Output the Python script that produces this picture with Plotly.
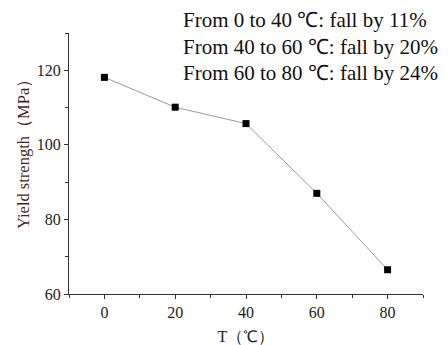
import plotly.graph_objects as go

temps = [0, 20, 40, 60, 80]
yield_strength = [118.1, 110.1, 105.7, 87.0, 66.5]
x_ticks = [0, 20, 40, 60, 80]
y_ticks = [60, 80, 100, 120]
notes = ["From 0 to 40 ℃: fall by 11%",
         "From 40 to 60 ℃: fall by 20%",
         "From 60 to 80 ℃: fall by 24%"]
y_title = "Yield strength（MPa）"
x_title = "T（℃）"

serif = "Liberation Serif"

# page body has an 8px default margin; compensate so the plot lands where the reference has it
fig = go.Figure()
fig.add_trace(go.Scatter(
    x=temps, y=yield_strength, mode="lines+markers",
    line=dict(color="#9a9a9a", width=1),
    marker=dict(symbol="square", size=7, color="black"),
    showlegend=False,
))

fig.update_layout(
    width=440, height=337,
    margin=dict(l=61, r=25, t=25, b=51, autoexpand=False),
    paper_bgcolor="white", plot_bgcolor="white",
    font=dict(family=serif, size=16, color="#222"),
)
fig.update_xaxes(
    range=[-10, 90], tickvals=x_ticks, showgrid=False, zeroline=False,
    showline=True, linecolor="#333", linewidth=1, automargin=False,
    ticks="outside", ticklen=4, tickcolor="#333",
    tickfont=dict(family=serif, size=16, color="#222"),
    minor=dict(dtick=10, tick0=0, ticks="outside", ticklen=3, tickcolor="#333"),
    title=dict(text=x_title, font=dict(family=serif, size=16, color="#222"), standoff=10),
)
fig.update_yaxes(
    range=[60, 130], tickvals=y_ticks, showgrid=False, zeroline=False,
    showline=True, linecolor="#333", linewidth=1, automargin=False,
    ticks="outside", ticklen=4, tickcolor="#333",
    tickfont=dict(family=serif, size=16, color="#222"),
    minor=dict(dtick=10, tick0=60, ticks="outside", ticklen=3, tickcolor="#333"),
)

# y-axis title placed as a rotated annotation (reference sets it slightly above centre)
fig.add_annotation(
    text=y_title, xref="paper", yref="paper",
    x=(23 - 69) / 354, y=(294 - 150) / 261,
    xanchor="center", yanchor="middle", textangle=-90, showarrow=False,
    font=dict(family=serif, size=16.5, color="#4a1f1f"),
)

for i, t in enumerate(notes):
    fig.add_annotation(
        text=t, xref="paper", yref="paper", x=(181 - 69) / 354, y=1 + (33 - (20 + 26.5 * i)) / 261,
        xanchor="left", yanchor="middle", showarrow=False,
        font=dict(family=serif, size=21, color="#111"),
    )

fig.write_html("out.html")
